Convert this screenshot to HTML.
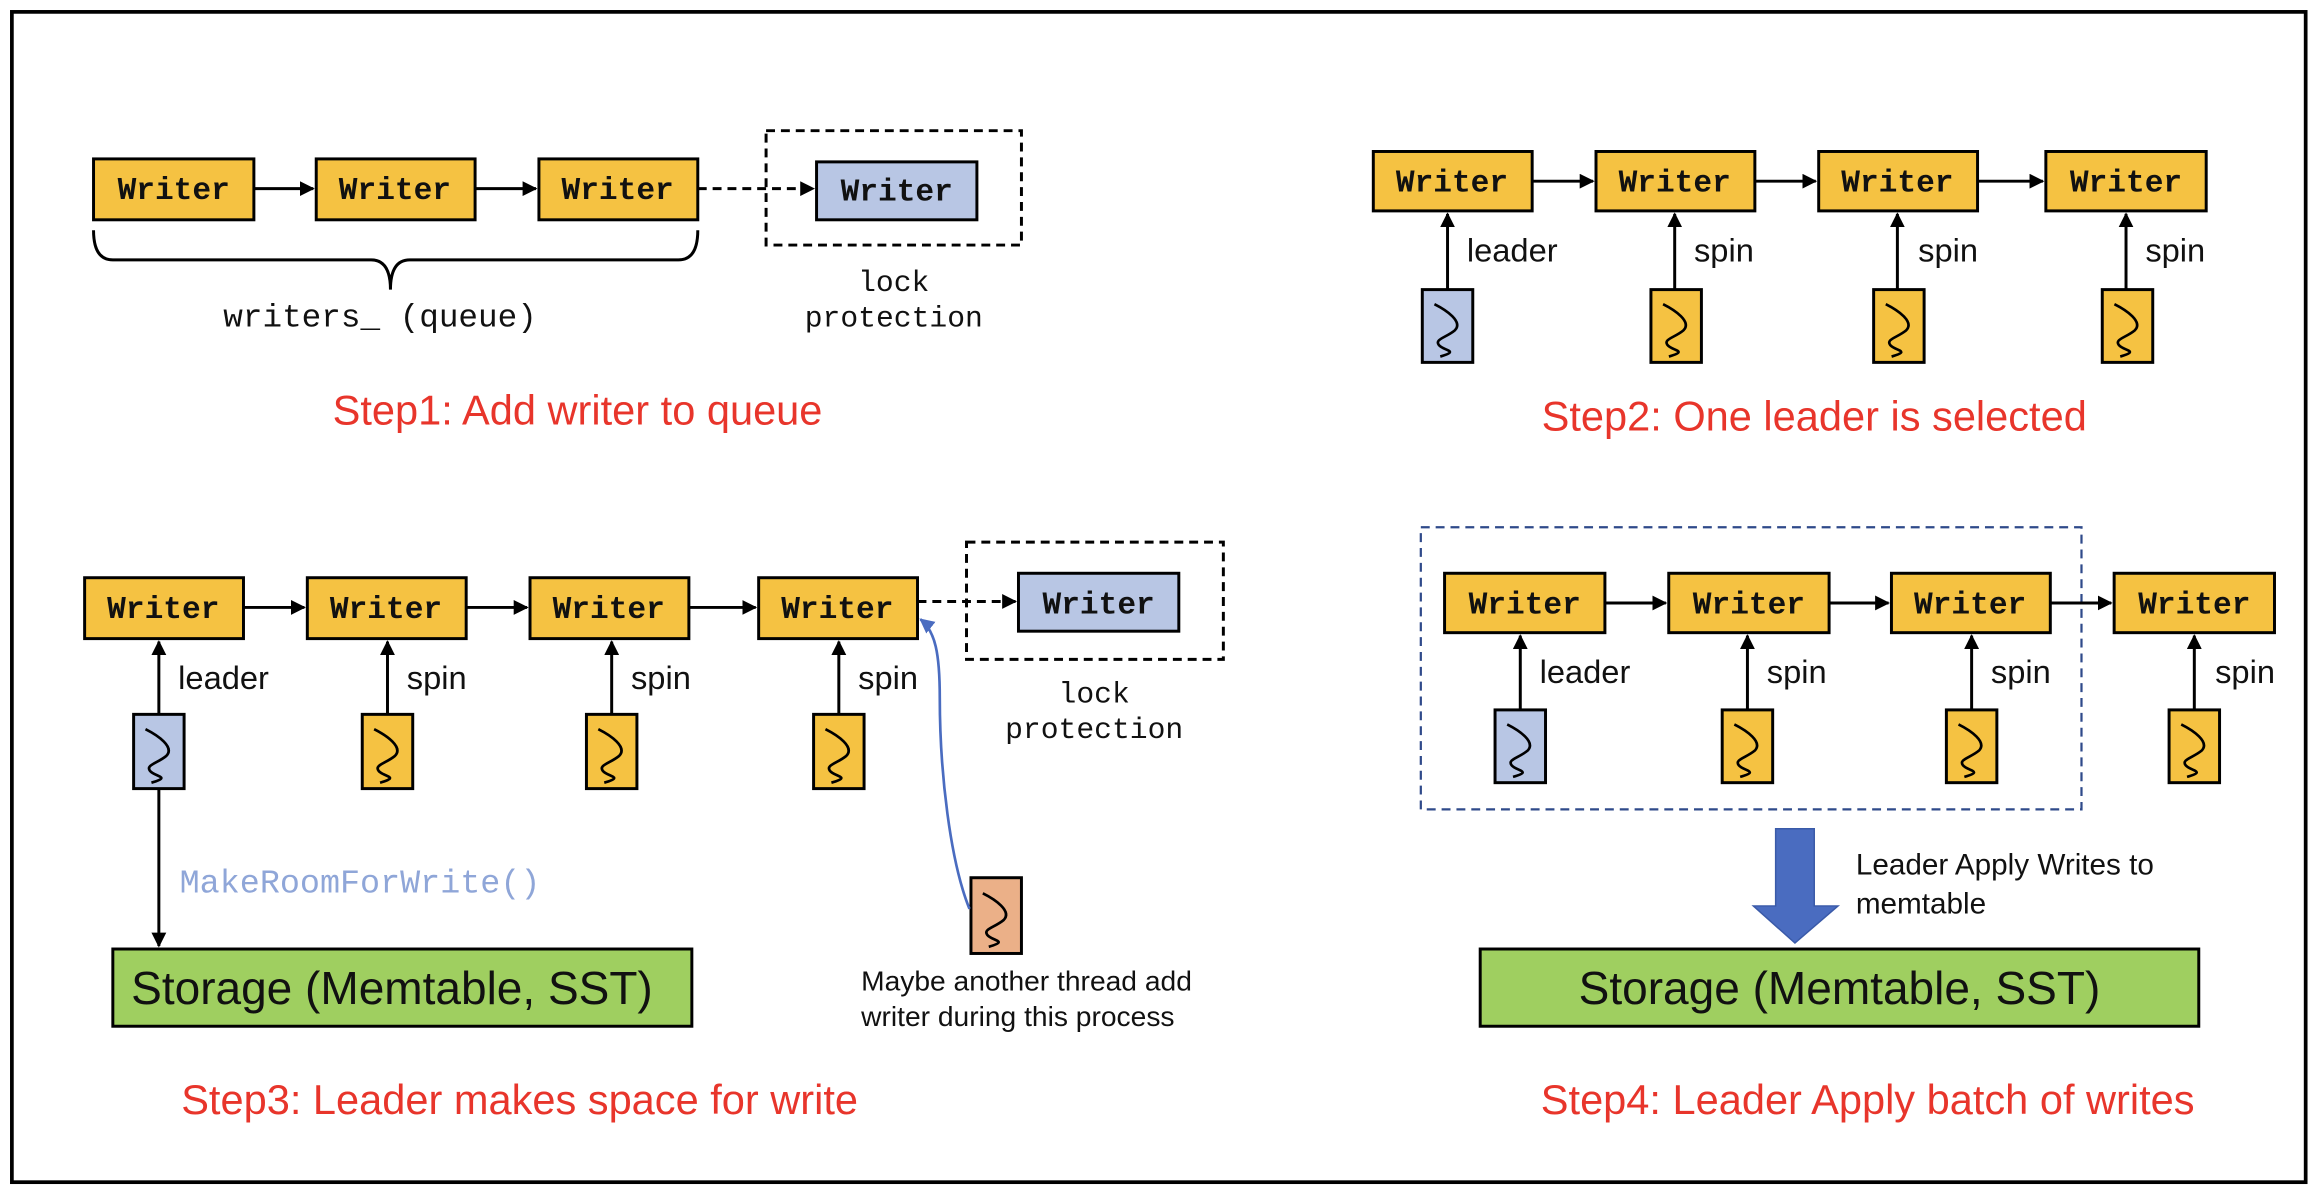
<!DOCTYPE html>
<html><head><meta charset="utf-8"><style>
html,body{margin:0;padding:0;background:#fff;}
svg{display:block;}
.w{font-family:"Liberation Mono",monospace;font-weight:bold;font-size:21px;text-anchor:middle;fill:#111;}
.m{font-family:"Liberation Mono",monospace;font-size:20px;text-anchor:middle;fill:#111;}
.s{font-family:"Liberation Sans",sans-serif;font-size:22px;fill:#111;}
.r{font-family:"Liberation Sans",sans-serif;font-size:28px;fill:#e8352b;text-anchor:middle;}
.g{font-family:"Liberation Sans",sans-serif;font-size:31px;fill:#111;text-anchor:middle;}
.n{font-family:"Liberation Sans",sans-serif;font-size:19px;fill:#111;}
</style></head><body>
<svg width="2322" height="1200" viewBox="0 0 1564 808" preserveAspectRatio="none" xmlns="http://www.w3.org/2000/svg">
<defs>
<marker id="a" markerWidth="10" markerHeight="10" refX="9" refY="5" orient="auto" markerUnits="userSpaceOnUse"><path d="M0,0 L10,5 L0,10 z" fill="#000"/></marker>
<marker id="b" markerWidth="10" markerHeight="10" refX="9" refY="5" orient="auto" markerUnits="userSpaceOnUse"><path d="M0,0 L10,5 L0,10 z" fill="#4a6cc0"/></marker>
<symbol id="th" viewBox="0 0 34 50"><path d="M8,10 C16,14 28,22 22,28 C16,33 8,34 11,38 C14,42 26,42 12,46" fill="none" stroke="#000" stroke-width="1.8"/></symbol>
</defs>
<rect x="8" y="8" width="1545" height="788" fill="none" stroke="#000" stroke-width="2.5"/>

<!-- Step1 -->
<g stroke="#000" stroke-width="2">
<rect x="63" y="107" width="108" height="41" fill="#f5c242"/>
<rect x="213" y="107" width="107" height="41" fill="#f5c242"/>
<rect x="363" y="107" width="107" height="41" fill="#f5c242"/>
<rect x="550" y="109" width="108" height="39" fill="#b8c6e4"/>
<line x1="171" y1="127" x2="211" y2="127" marker-end="url(#a)"/>
<line x1="320" y1="127" x2="361" y2="127" marker-end="url(#a)"/>
<line x1="470" y1="127" x2="548" y2="127" stroke-dasharray="6,4" marker-end="url(#a)"/>
<rect x="516" y="88" width="172" height="77" fill="none" stroke-dasharray="6,4"/>
<path d="M63,155 Q63,175 76,175 L250,175 Q263,175 263,195 Q263,175 276,175 L457,175 Q470,175 470,155" fill="none"/>
</g>
<text class="w" x="117" y="134">Writer</text>
<text class="w" x="266" y="134">Writer</text>
<text class="w" x="416" y="134">Writer</text>
<text class="w" x="604" y="135">Writer</text>
<text class="m" x="256" y="220" style="font-size:22px">writers_ (queue)</text>
<text class="m" x="602" y="196">lock</text>
<text class="m" x="602" y="220">protection</text>
<text class="r" x="389" y="286">Step1: Add writer to queue</text>

<!-- Step2 -->
<g stroke="#000" stroke-width="2">
<rect x="925" y="102" width="107" height="40" fill="#f5c242"/>
<rect x="1075" y="102" width="107" height="40" fill="#f5c242"/>
<rect x="1225" y="102" width="107" height="40" fill="#f5c242"/>
<rect x="1378" y="102" width="108" height="40" fill="#f5c242"/>
<line x1="1032" y1="122" x2="1073" y2="122" marker-end="url(#a)"/>
<line x1="1182" y1="122" x2="1223" y2="122" marker-end="url(#a)"/>
<line x1="1332" y1="122" x2="1376" y2="122" marker-end="url(#a)"/>
<line x1="975" y1="195" x2="975" y2="144" marker-end="url(#a)"/>
<line x1="1128" y1="195" x2="1128" y2="144" marker-end="url(#a)"/>
<line x1="1278" y1="195" x2="1278" y2="144" marker-end="url(#a)"/>
<line x1="1432" y1="195" x2="1432" y2="144" marker-end="url(#a)"/>
<rect x="958" y="195" width="34" height="49" fill="#b8c6e4"/>
<rect x="1112" y="195" width="34" height="49" fill="#f5c242"/>
<rect x="1262" y="195" width="34" height="49" fill="#f5c242"/>
<rect x="1416" y="195" width="34" height="49" fill="#f5c242"/>
</g>
<use href="#th" x="958" y="195" width="34" height="49"/>
<use href="#th" x="1112" y="195" width="34" height="49"/>
<use href="#th" x="1262" y="195" width="34" height="49"/>
<use href="#th" x="1416" y="195" width="34" height="49"/>
<text class="w" x="978" y="129">Writer</text>
<text class="w" x="1128" y="129">Writer</text>
<text class="w" x="1278" y="129">Writer</text>
<text class="w" x="1432" y="129">Writer</text>
<text class="s" x="988" y="176">leader</text>
<text class="s" x="1141" y="176">spin</text>
<text class="s" x="1292" y="176">spin</text>
<text class="s" x="1445" y="176">spin</text>
<text class="r" x="1222" y="290">Step2: One leader is selected</text>

<!-- Step3 -->
<g stroke="#000" stroke-width="2">
<rect x="57" y="389" width="107" height="41" fill="#f5c242"/>
<rect x="207" y="389" width="107" height="41" fill="#f5c242"/>
<rect x="357" y="389" width="107" height="41" fill="#f5c242"/>
<rect x="511" y="389" width="107" height="41" fill="#f5c242"/>
<rect x="686" y="386" width="108" height="39" fill="#b8c6e4"/>
<rect x="651" y="365" width="173" height="79" fill="none" stroke-dasharray="6,4"/>
<line x1="164" y1="409" x2="205" y2="409" marker-end="url(#a)"/>
<line x1="314" y1="409" x2="355" y2="409" marker-end="url(#a)"/>
<line x1="464" y1="409" x2="509" y2="409" marker-end="url(#a)"/>
<line x1="618" y1="405" x2="684" y2="405" stroke-dasharray="6,4" marker-end="url(#a)"/>
<line x1="107" y1="481" x2="107" y2="432" marker-end="url(#a)"/>
<line x1="261" y1="481" x2="261" y2="432" marker-end="url(#a)"/>
<line x1="412" y1="481" x2="412" y2="432" marker-end="url(#a)"/>
<line x1="565" y1="481" x2="565" y2="432" marker-end="url(#a)"/>
<line x1="107" y1="531" x2="107" y2="637" marker-end="url(#a)"/>
<rect x="90" y="481" width="34" height="50" fill="#b8c6e4"/>
<rect x="244" y="481" width="34" height="50" fill="#f5c242"/>
<rect x="395" y="481" width="34" height="50" fill="#f5c242"/>
<rect x="548" y="481" width="34" height="50" fill="#f5c242"/>
<rect x="654" y="591" width="34" height="51" fill="#ebb088"/>
<rect x="76" y="639" width="390" height="52" fill="#9fcf60"/>
</g>
<path d="M653,612 C640,580 633,520 633,470 C633,440 630,425 620,417" fill="none" stroke="#4a6cc0" stroke-width="1.8" marker-end="url(#b)"/>
<use href="#th" x="90" y="481" width="34" height="50"/>
<use href="#th" x="244" y="481" width="34" height="50"/>
<use href="#th" x="395" y="481" width="34" height="50"/>
<use href="#th" x="548" y="481" width="34" height="50"/>
<use href="#th" x="654" y="591" width="34" height="51"/>
<text class="w" x="110" y="416">Writer</text>
<text class="w" x="260" y="416">Writer</text>
<text class="w" x="410" y="416">Writer</text>
<text class="w" x="564" y="416">Writer</text>
<text class="w" x="740" y="413">Writer</text>
<text class="s" x="120" y="464">leader</text>
<text class="s" x="274" y="464">spin</text>
<text class="s" x="425" y="464">spin</text>
<text class="s" x="578" y="464">spin</text>
<text class="m" x="737" y="473">lock</text>
<text class="m" x="737" y="497">protection</text>
<text x="121" y="601" style="font-family:'Liberation Mono',monospace;font-size:22.5px;fill:#8fa6d8;">MakeRoomForWrite()</text>
<text class="g" x="264" y="676">Storage (Memtable, SST)</text>
<text class="n" x="580" y="667">Maybe another thread add</text>
<text class="n" x="580" y="691">writer during this process</text>
<text class="r" x="350" y="750">Step3: Leader makes space for write</text>

<!-- Step4 -->
<g stroke="#000" stroke-width="2">
<rect x="957" y="355" width="445" height="190" fill="none" stroke="#2f4a8a" stroke-width="1.5" stroke-dasharray="6,4"/>
<rect x="973" y="386" width="108" height="40" fill="#f5c242"/>
<rect x="1124" y="386" width="108" height="40" fill="#f5c242"/>
<rect x="1274" y="386" width="107" height="40" fill="#f5c242"/>
<rect x="1424" y="386" width="108" height="40" fill="#f5c242"/>
<line x1="1081" y1="406" x2="1122" y2="406" marker-end="url(#a)"/>
<line x1="1232" y1="406" x2="1272" y2="406" marker-end="url(#a)"/>
<line x1="1381" y1="406" x2="1422" y2="406" marker-end="url(#a)"/>
<line x1="1024" y1="478" x2="1024" y2="428" marker-end="url(#a)"/>
<line x1="1177" y1="478" x2="1177" y2="428" marker-end="url(#a)"/>
<line x1="1328" y1="478" x2="1328" y2="428" marker-end="url(#a)"/>
<line x1="1478" y1="478" x2="1478" y2="428" marker-end="url(#a)"/>
<rect x="1007" y="478" width="34" height="49" fill="#b8c6e4"/>
<rect x="1160" y="478" width="34" height="49" fill="#f5c242"/>
<rect x="1311" y="478" width="34" height="49" fill="#f5c242"/>
<rect x="1461" y="478" width="34" height="49" fill="#f5c242"/>
<rect x="997" y="639" width="484" height="52" fill="#9fcf60"/>
</g>
<path d="M1196,558 L1222,558 L1222,610 L1238,610 L1209,635 L1181,610 L1196,610 z" fill="#4a6cc0" stroke="#3a5aa8" stroke-width="1"/>
<use href="#th" x="1007" y="478" width="34" height="49"/>
<use href="#th" x="1160" y="478" width="34" height="49"/>
<use href="#th" x="1311" y="478" width="34" height="49"/>
<use href="#th" x="1461" y="478" width="34" height="49"/>
<text class="w" x="1027" y="413">Writer</text>
<text class="w" x="1178" y="413">Writer</text>
<text class="w" x="1327" y="413">Writer</text>
<text class="w" x="1478" y="413">Writer</text>
<text class="s" x="1037" y="460">leader</text>
<text class="s" x="1190" y="460">spin</text>
<text class="s" x="1341" y="460">spin</text>
<text class="s" x="1492" y="460">spin</text>
<text class="n" x="1250" y="589" style="font-size:20px">Leader Apply Writes to</text>
<text class="n" x="1250" y="615" style="font-size:20px">memtable</text>
<text class="g" x="1239" y="676">Storage (Memtable, SST)</text>
<text class="r" x="1258" y="750">Step4: Leader Apply batch of writes</text>
</svg>
</body></html>
